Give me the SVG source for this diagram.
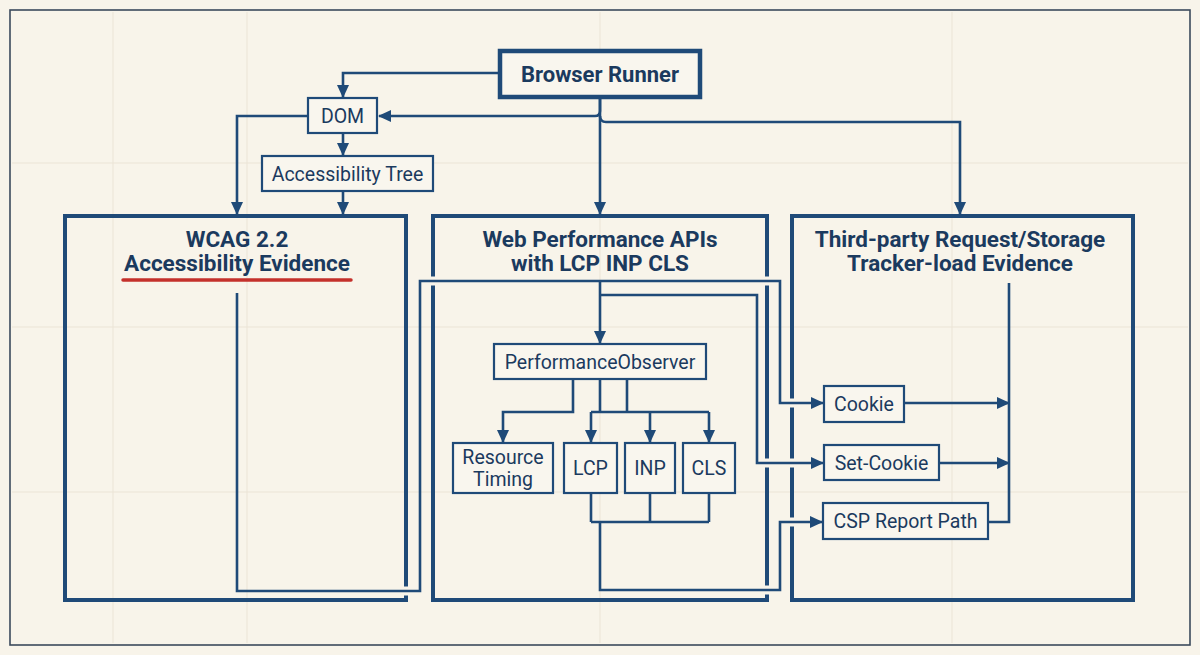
<svg xmlns="http://www.w3.org/2000/svg" width="1200" height="655" viewBox="0 0 1200 655">
<defs>
<marker id="ah" markerUnits="userSpaceOnUse" markerWidth="13" markerHeight="12" refX="12" refY="6" orient="auto">
<path d="M0,0 L13,6 L0,12 z" fill="#1f4a78"/>
</marker>
<style>
.bg{fill:#f8f4ea}
.grid{stroke:#ebe4d6;stroke-width:1;fill:none}
.frame{fill:none;stroke:#3b4a5c;stroke-width:1.6}
.panel{fill:none;stroke:#1f4a78;stroke-width:4}
.box{fill:#f9f6ee;stroke:#1f4a78;stroke-width:2.2}
.main{fill:#f9f6ee;stroke:#1f4a78;stroke-width:4.5}
.c{fill:none;stroke:#1f4a78;stroke-width:2.6;stroke-linejoin:miter}
.halo{fill:none;stroke:#f8f4ea;stroke-width:9}
.t{font-family:Roboto,"Liberation Sans",sans-serif;fill:#1b3a5e;text-anchor:middle}
.lbl{font-size:19.5px}
.ttl{font-size:22.5px;font-weight:700}
</style>
</defs>
<rect class="bg" x="0" y="0" width="1200" height="655"/>
<g id="grid">
<path class="grid" d="M113,12 V643 M247,12 V643 M600,12 V643 M952,12 V643 M12,163 H1188 M12,327 H1188 M12,492 H1188"/>
</g>
<rect class="frame" x="10" y="10" width="1180" height="635"/>

<g id="panel-wcag">
<rect class="panel" x="65" y="216" width="341" height="384"/>
<text class="t ttl" x="237" y="247">WCAG 2.2</text>
<text class="t ttl" x="237" y="271">Accessibility Evidence</text>
<line x1="123" y1="280" x2="351" y2="280" stroke="#c4302b" stroke-width="3.5" stroke-linecap="round"/>
</g>
<g id="panel-perf">
<rect class="panel" x="433" y="216" width="334" height="384"/>
<text class="t ttl" x="600" y="247">Web Performance APIs</text>
<text class="t ttl" x="600" y="271">with LCP INP CLS</text>
</g>
<g id="panel-third">
<rect class="panel" x="792" y="216" width="341" height="384"/>
<text class="t ttl" x="960" y="247">Third-party Request/Storage</text>
<text class="t ttl" x="960" y="271">Tracker-load Evidence</text>
</g>

<g id="connectors">
<path class="halo" d="M400,591 H413 M427,281 H439 M761,281 H773 M786,403 H798 M761,463 H798 M786,522 H798 M761,590 H773"/>
<path class="c" d="M500,73 H343 V97" marker-end="url(#ah)"/>
<path class="c" d="M600,97 V111 Q600,116 595,116 H379" marker-end="url(#ah)"/>
<path class="c" d="M600,116 Q600,122 606,122 H960 V214" marker-end="url(#ah)"/>
<path class="c" d="M600,97 V214" marker-end="url(#ah)"/>
<path class="c" d="M308,116 H237 V214" marker-end="url(#ah)"/>
<path class="c" d="M343,133 V155" marker-end="url(#ah)"/>
<path class="c" d="M343,191 V214" marker-end="url(#ah)"/>
<path class="c" d="M237,293 V591 H420 V281 H780 V403 H823" marker-end="url(#ah)"/>
<path class="c" d="M600,281 V343" marker-end="url(#ah)"/>
<path class="c" d="M600,295 H757 V463 H823" marker-end="url(#ah)"/>
<path class="c" d="M573,379 V412 H503 V442" marker-end="url(#ah)"/>
<path class="c" d="M600,379 V412 M627,379 V412 M591,412 H709"/>
<path class="c" d="M591,412 V442" marker-end="url(#ah)"/>
<path class="c" d="M650,412 V442" marker-end="url(#ah)"/>
<path class="c" d="M709,412 V442" marker-end="url(#ah)"/>
<path class="c" d="M591,493 V522 M650,493 V522 M709,493 V522 M591,522 H709"/>
<path class="c" d="M600,522 V590 H780 V522 H822" marker-end="url(#ah)"/>
<path class="c" d="M904,403 H1009" marker-end="url(#ah)"/>
<path class="c" d="M939,463 H1009" marker-end="url(#ah)"/>
<path class="c" d="M988,522 H1009 V283"/>
</g>

<g id="browser-runner">
<rect class="main" x="500" y="51" width="200" height="46"/>
<text class="t" x="600" y="82" font-size="22" font-weight="700">Browser Runner</text>
</g>
<g id="dom">
<rect class="box" x="308" y="98" width="69" height="35"/>
<text class="t lbl" x="342.5" y="122.5">DOM</text>
</g>
<g id="accessibility-tree">
<rect class="box" x="262" y="156" width="171" height="35"/>
<text class="t lbl" x="347.5" y="180.5">Accessibility Tree</text>
</g>
<g id="performance-observer">
<rect class="box" x="494" y="344" width="212" height="35"/>
<text class="t lbl" x="600" y="368.5">PerformanceObserver</text>
</g>
<g id="resource-timing">
<rect class="box" x="453" y="443" width="100" height="50"/>
<text class="t lbl" x="503" y="464">Resource</text>
<text class="t lbl" x="503" y="486">Timing</text>
</g>
<g id="lcp">
<rect class="box" x="564" y="443" width="53" height="50"/>
<text class="t lbl" x="590.5" y="475">LCP</text>
</g>
<g id="inp">
<rect class="box" x="625" y="443" width="50" height="50"/>
<text class="t lbl" x="650" y="475">INP</text>
</g>
<g id="cls">
<rect class="box" x="683" y="443" width="52" height="50"/>
<text class="t lbl" x="709" y="475">CLS</text>
</g>
<g id="cookie">
<rect class="box" x="824" y="386" width="80" height="36"/>
<text class="t lbl" x="864" y="410.5">Cookie</text>
</g>
<g id="set-cookie">
<rect class="box" x="824" y="445" width="115" height="35"/>
<text class="t lbl" x="881.5" y="469.5">Set-Cookie</text>
</g>
<g id="csp-report-path">
<rect class="box" x="823" y="503" width="165" height="36"/>
<text class="t lbl" x="905.5" y="527.5">CSP Report Path</text>
</g>
</svg>
